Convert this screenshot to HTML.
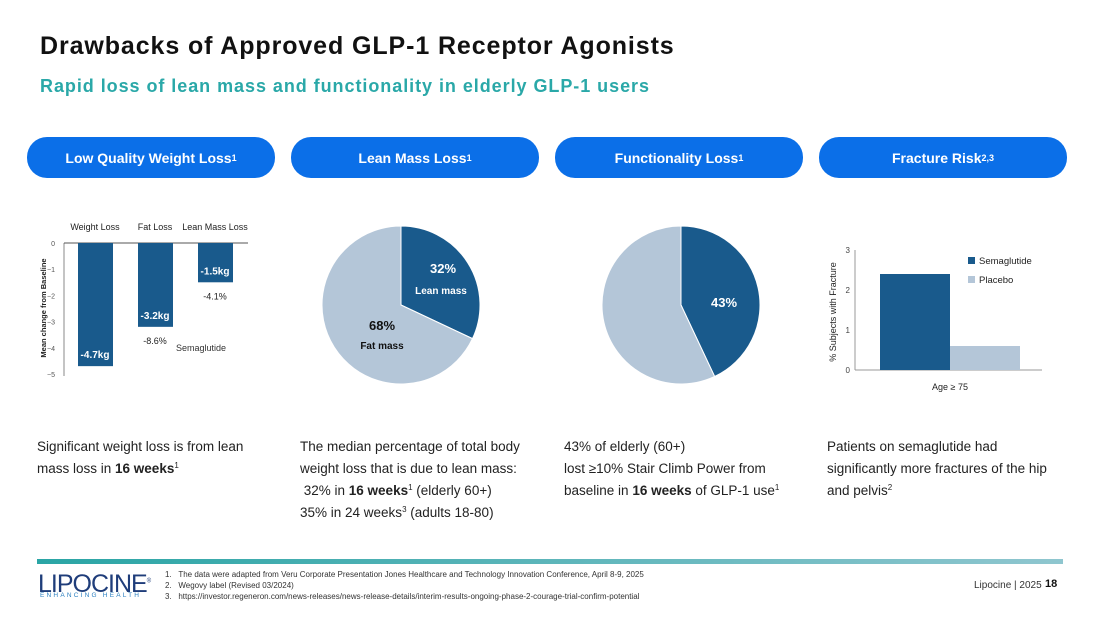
<!DOCTYPE html>
<html><head><meta charset="utf-8"><style>
body{margin:0;width:1100px;height:619px;background:#fff;font-family:"Liberation Sans",sans-serif;position:relative;overflow:hidden}
.abs{position:absolute}
.pill{position:absolute;top:137px;height:41px;width:248px;background:#0b6fe8;border-radius:20px;color:#fff;font-weight:bold;font-size:14px;display:flex;align-items:center;justify-content:center}
.pill sup{font-size:9px;line-height:0;vertical-align:5px}
.cap{position:absolute;top:436px;font-size:13.5px;line-height:22px;color:#222}
.cap sup{font-size:8px;line-height:0;vertical-align:5px}
</style></head><body>
<div class="abs" style="left:40px;top:32px;font-size:25px;font-weight:bold;color:#111;letter-spacing:0.9px">Drawbacks of Approved GLP-1 Receptor Agonists</div>
<div class="abs" style="left:40px;top:76px;font-size:18px;font-weight:bold;color:#2aa8a8;letter-spacing:0.95px">Rapid loss of lean mass and functionality in elderly GLP-1 users</div>

<div class="pill" style="left:27px">Low Quality Weight Loss<sup>1</sup></div>
<div class="pill" style="left:291px">Lean Mass Loss<sup>1</sup></div>
<div class="pill" style="left:555px">Functionality Loss<sup>1</sup></div>
<div class="pill" style="left:819px">Fracture Risk<sup>2,3</sup></div>

<svg class="abs" style="left:0;top:0" width="1100" height="619" id="charts"></svg>

<div class="cap" style="left:37px">Significant weight loss is from lean<br>mass loss in <b>16 weeks</b><sup>1</sup></div>
<div class="cap" style="left:300px">The median percentage of total body<br>weight loss that is due to lean mass:<br>&nbsp;32% in <b>16 weeks</b><sup>1</sup> (elderly 60+)<br>35% in 24 weeks<sup>3</sup> (adults 18-80)</div>
<div class="cap" style="left:564px">43% of elderly (60+)<br>lost ≥10% Stair Climb Power from<br>baseline in <b>16 weeks</b> of GLP-1 use<sup>1</sup></div>
<div class="cap" style="left:827px">Patients on semaglutide had<br>significantly more fractures of the hip<br>and pelvis<sup>2</sup></div>

<div class="abs" style="left:37px;top:559px;width:1026px;height:5px;background:linear-gradient(90deg,#2aa5a5,#8fc6cf)"></div>
<div class="abs" style="left:38px;top:570px;font-size:25px;color:#1f3d7a;letter-spacing:-1px">LIPOCINE<sup style="font-size:6px">®</sup></div>
<div class="abs" style="left:40px;top:592px;font-size:6.5px;color:#2a7fc0;letter-spacing:2.2px">ENHANCING HEALTH</div>
<div class="abs" style="left:165px;top:569px;font-size:8px;line-height:11px;color:#333">1.&nbsp;&nbsp;&nbsp;The data were adapted from Veru Corporate Presentation Jones Healthcare and Technology Innovation Conference, April 8-9, 2025<br>2.&nbsp;&nbsp;&nbsp;Wegovy label (Revised 03/2024)<br>3.&nbsp;&nbsp;&nbsp;https://investor.regeneron.com/news-releases/news-release-details/interim-results-ongoing-phase-2-courage-trial-confirm-potential</div>
<div class="abs" style="left:974px;top:580px;font-size:10px;color:#333">Lipocine | 2025</div>
<div class="abs" style="left:1045px;top:578px;font-size:11px;font-weight:bold;color:#111">18</div>

<script>
const wlCategories=["Weight Loss","Fat Loss","Lean Mass Loss"];
const wlValues=[-4.7,-3.2,-1.5];
const wlLabels=["-4.7kg","-3.2kg","-1.5kg"];
const wlPercents=["","-8.6%","-4.1%"];
const wlTicks=[0,-1,-2,-3,-4,-5];
const leanSlices=[32,68];
const funcSlices=[43,57];
const frCategories=["Age ≥ 75"];
const frSeries=["Semaglutide","Placebo"];
const frValues=[2.4,0.6];
const frTicks=[0,1,2,3];

const svg=document.getElementById('charts');
const NS='http://www.w3.org/2000/svg';
function mk(tag,attrs,parent,txt){const e=document.createElementNS(NS,tag);for(const k in attrs)e.setAttribute(k,attrs[k]);if(txt!==undefined)e.textContent=txt;(parent||svg).appendChild(e);return e;}
const DARK='#195a8c',LIGHT='#b4c6d8';

// Chart 1
const y1=v=>243+(-v)*26.2;
const x1=i=>78+i*60;
wlTicks.forEach(t=>{const e=mk('text',{x:55,y:y1(t)+3,'font-size':7,fill:'#555','text-anchor':'end'},svg,t===0?'0':'−'+(-t));});
let ax=mk('line',{x1:64,y1:y1(0),x2:64,y2:y1(-5)+2,stroke:'#888','stroke-width':1});
ax=mk('line',{x1:64,y1:y1(0),x2:248,y2:y1(0),stroke:'#555','stroke-width':1});
let yt=mk('text',{x:0,y:0,'font-size':7.5,'font-weight':'bold',fill:'#222','text-anchor':'middle',transform:'translate(46,308) rotate(-90)'},svg,'Mean change from Baseline');

wlValues.forEach((v,i)=>{
 const b=mk('rect',{x:x1(i),y:y1(0),width:35,height:y1(v)-y1(0),fill:DARK});
 
 const c=mk('text',{x:x1(i)+17,y:y1(0)-13,'font-size':9,fill:'#222','text-anchor':'middle'},svg,wlCategories[i]);
 
 const l=mk('text',{x:x1(i)+17,y:y1(v)-8,'font-size':10,'font-weight':'bold',fill:'#fff','text-anchor':'middle'},svg,wlLabels[i]);
 
 if(wlPercents[i]){const p=mk('text',{x:x1(i)+17,y:y1(v)+17,'font-size':9,fill:'#222','text-anchor':'middle'},svg,wlPercents[i]);}
});
let sl=mk('text',{x:176,y:351,'font-size':9,fill:'#333'},svg,'Semaglutide');

// Pies
function pie(cx,cy,r,vals,cols,name){
 const tot=vals.reduce((a,b)=>a+b,0);let a0=-Math.PI/2;
 vals.forEach((v,i)=>{const a1=a0+v/tot*2*Math.PI;const lg=(a1-a0)>Math.PI?1:0;
  const p=mk('path',{d:`M${cx},${cy} L${cx+r*Math.cos(a0)},${cy+r*Math.sin(a0)} A${r},${r} 0 ${lg} 1 ${cx+r*Math.cos(a1)},${cy+r*Math.sin(a1)} Z`,fill:cols[i],stroke:'#fff','stroke-width':1});
  a0=a1;});
}
pie(401,305,79,leanSlices,[DARK,LIGHT],'lean-pie');
let t=mk('text',{x:443,y:273,'font-size':13,'font-weight':'bold',fill:'#fff','text-anchor':'middle'},svg,leanSlices[0]+'%');
t=mk('text',{x:441,y:294,'font-size':10,'font-weight':'bold',fill:'#fff','text-anchor':'middle'},svg,'Lean mass');
t=mk('text',{x:382,y:330,'font-size':13,'font-weight':'bold',fill:'#111','text-anchor':'middle'},svg,leanSlices[1]+'%');
t=mk('text',{x:382,y:349,'font-size':10,'font-weight':'bold',fill:'#111','text-anchor':'middle'},svg,'Fat mass');
pie(681,305,79,funcSlices,[DARK,LIGHT],'function-pie');
t=mk('text',{x:724,y:307,'font-size':13,'font-weight':'bold',fill:'#fff','text-anchor':'middle'},svg,funcSlices[0]+'%');

// Fracture chart
const y4=v=>370-v*40;
frTicks.forEach(tk=>{const e=mk('text',{x:850,y:y4(tk)+3,'font-size':8,fill:'#444','text-anchor':'end'},svg,String(tk));});
ax=mk('line',{x1:855,y1:y4(3),x2:855,y2:y4(0),stroke:'#999'});
ax=mk('line',{x1:855,y1:y4(0),x2:1042,y2:y4(0),stroke:'#999'});
frValues.forEach((v,i)=>{const b=mk('rect',{x:880+i*70,y:y4(v),width:70,height:y4(0)-y4(v),fill:i?LIGHT:DARK});
 const lr=mk('rect',{x:968,y:257+i*19,width:7,height:7,fill:i?LIGHT:DARK});
 const lt=mk('text',{x:979,y:264+i*19,'font-size':9.5,fill:'#222'},svg,frSeries[i]);});
t=mk('text',{x:950,y:390,'font-size':9,fill:'#222','text-anchor':'middle'},svg,frCategories[0]);
t=mk('text',{x:0,y:0,'font-size':9,fill:'#222','text-anchor':'middle',transform:'translate(836,312) rotate(-90)'},svg,'% Subjects with Fracture');
</script>
</body></html>
